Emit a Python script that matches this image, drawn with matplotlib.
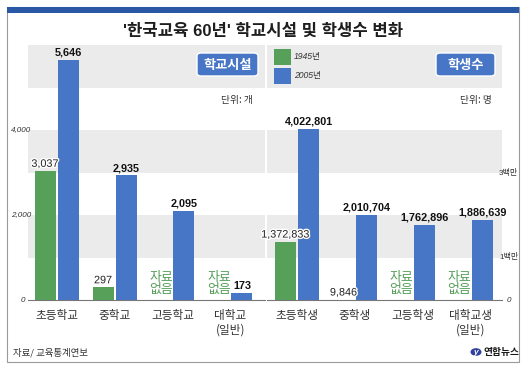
import matplotlib
matplotlib.use("Agg")
import matplotlib.pyplot as plt
import matplotlib.patheffects as pe
from matplotlib.patches import Rectangle, FancyBboxPatch, Circle
import numpy as np

plt.rcParams['font.family'] = ['Liberation Sans', 'Noto Sans CJK KR', 'DejaVu Sans']

# ---- data ----
title = "'한국교육 60년' 학교시설 및 학생수 변화"
school_cats = ["초등학교", "중학교", "고등학교", "대학교\n(일반)"]
school_1945 = [3037, 297, None, None]
school_2005 = [5646, 2935, 2095, 173]
student_cats = ["초등학생", "중학생", "고등학생", "대학교생\n(일반)"]
student_1945 = [1372833, 9846, None, None]
student_2005 = [4022801, 2010704, 1762896, 1886639]
legend_labels = ["1945년", "2005년"]
left_yticks = [0, 2000, 4000]
left_yticklabels = ["0", "2,000", "4,000"]
right_yticks = [0, 1000000, 3000000]
right_yticklabels = ["0", "1백만", "3백만"]
no_data = "자료\n없음"

GREEN = "#56a05a"
BLUE = "#4876c6"
BAND = "#ebebeb"

W, H = 527, 366
fig = plt.figure(figsize=(W / 100, H / 100), dpi=100)

def fx(x):
    return x / W

def fy(y):
    return 1 - y / H

# frame
fig.patches.append(Rectangle((fx(7), fy(362)), fx(519) - fx(7), fy(7) - fy(362),
                             transform=fig.transFigure, fill=False, edgecolor="#9a9a9a", lw=0.8))
fig.patches.append(Rectangle((fx(7), fy(13)), fx(519) - fx(7), fy(7) - fy(13),
                             transform=fig.transFigure, facecolor="#2b58a4", edgecolor="none"))

fig.text(fx(263), fy(31), title, ha="center", va="center", fontsize=12,
         fontweight="bold", color="#1e1e1e", family=['Liberation Sans', 'Noto Sans CJK KR'])

def make_panel(x0, x1, center0, cats, v45, v05, ymax, step):
    ax = fig.add_axes([fx(x0), fy(300), fx(x1) - fx(x0), fy(45) - fy(300)])
    sp = 58.0
    left_units = (center0 - x0) / sp
    ax.set_xlim(-left_units, -left_units + (x1 - x0) / sp)
    ax.set_ylim(0, ymax)
    for lo in (step, 3 * step, 5 * step):
        ax.axhspan(lo, lo + step, color=BAND, lw=0, zorder=0)
    ax.axis("off")
    bw = 21 / sp
    off = 11.5 / sp
    xs = np.arange(len(cats))
    for i in xs:
        if v45[i] is not None:
            ax.bar(i - off, v45[i], bw, color=GREEN, zorder=2)
            t = ax.annotate(f"{v45[i]:,}", (i - off, v45[i]), xytext=(0, 1.5),
                            textcoords="offset points", ha="center", va="bottom",
                            fontsize=7.8, color="#222222", zorder=5)
            t.set_path_effects([pe.withStroke(linewidth=2, foreground="white")])
        else:
            ax.text(i - off, 0.015 * ymax, no_data, ha="center", va="bottom",
                    fontsize=9.3, color=GREEN, linespacing=0.9,
                    family=['Noto Sans CJK KR'])
        ax.bar(i + off, v05[i], bw, color=BLUE, zorder=2)
        ax.annotate(f"{v05[i]:,}", (i + off, v05[i]), xytext=(0, 1.5),
                    textcoords="offset points", ha="center", va="bottom",
                    fontsize=7.8, color="#111111", fontweight="bold", zorder=5)
        ax.text(i, -0.035 * ymax, cats[i], ha="center", va="top", fontsize=8.4,
                color="#333333", linespacing=1.2, family=['Noto Sans CJK KR'],
                clip_on=False)
    ax.plot([ax.get_xlim()[0], ax.get_xlim()[1]], [0, 0], color="#777777", lw=0.8,
            zorder=3, clip_on=False)
    return ax

axL = make_panel(28, 265, 56.5, school_cats, school_1945, school_2005, 6000, 1000)
axR = make_panel(267, 502, 297.0, student_cats, student_1945, student_2005, 6000000,
                 1000000)

# y tick labels
for v, lab in zip(left_yticks, left_yticklabels):
    x = fx(25) if v == 0 else fx(31)
    fig.text(x, fy(300 - v / 1000 * 42.5), lab, ha="right", va="center", fontsize=5.8,
             style="italic", color="#333333")
for v, lab in zip(right_yticks, right_yticklabels):
    x = fx(507) if v == 0 else fx(499)
    fig.text(x, fy(300 - v / 1e6 * 42.5), lab, ha="left", va="center", fontsize=5.8,
             style="italic" if v == 0 else "normal", color="#333333",
             family=['Liberation Sans', 'Noto Sans CJK KR'])

# badges
def badge(x0, x1, y0, y1, text):
    fig.patches.append(FancyBboxPatch((fx(x0), fy(y1)), fx(x1) - fx(x0), fy(y0) - fy(y1),
                                      boxstyle="round,pad=0,rounding_size=0.008",
                                      transform=fig.transFigure, facecolor=BLUE,
                                      edgecolor="white", lw=1.0, zorder=5))
    fig.text(fx((x0 + x1) / 2), fy((y0 + y1) / 2 + 0.5), text, ha="center", va="center",
             fontsize=9.5, fontweight="bold", color="white", zorder=6,
             family=['Noto Sans CJK KR'])

badge(197, 258, 53, 76, "학교시설")
badge(436, 495, 53, 76, "학생수")

fig.text(fx(253), fy(100), "단위: 개", ha="right", va="center", fontsize=7,
         style="italic", color="#333333", family=['Noto Sans CJK KR'])
fig.text(fx(492), fy(100), "단위: 명", ha="right", va="center", fontsize=7,
         style="italic", color="#333333", family=['Noto Sans CJK KR'])

# legend
for k, (col, lab) in enumerate(zip([GREEN, BLUE], legend_labels)):
    ytop = 49 + k * 18.5
    fig.patches.append(Rectangle((fx(274), fy(ytop + 16)), fx(291) - fx(274),
                                 fy(ytop) - fy(ytop + 16), transform=fig.transFigure,
                                 facecolor=col, edgecolor="none", zorder=5))
    fig.text(fx(294), fy(ytop + 8), lab, ha="left", va="center", fontsize=6.2,
             style="italic", color="#333333", family=['Liberation Sans', 'Noto Sans CJK KR'])

# source
fig.text(fx(13), fy(353), "자료/ 교육통계연보", ha="left", va="center", fontsize=6.8,
         style="italic", color="#333333", family=['Noto Sans CJK KR'])

# logo
fig.patches.append(Circle((fx(476), fy(352)), 5.5 / W, transform=fig.transFigure,
                          facecolor="#2f3f9e", edgecolor="none", zorder=5))
fig.text(fx(476), fy(352), "y", ha="center", va="center", fontsize=6,
         color="white", style="italic", fontweight="bold", zorder=6)
fig.text(fx(483), fy(352), "연합뉴스", ha="left", va="center", fontsize=7,
         fontweight="bold", color="#1a1a1a", family=['Noto Sans CJK KR'])

fig.savefig("out.png", dpi=100)
